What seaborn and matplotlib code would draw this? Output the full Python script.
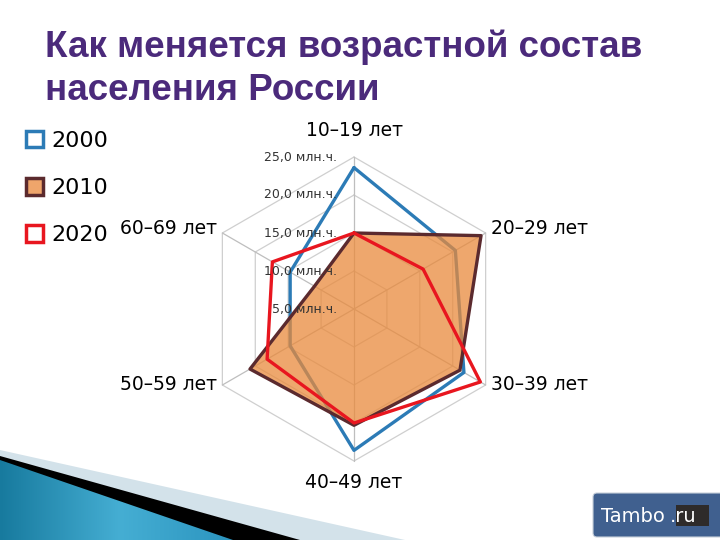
import numpy as np
import pandas as pd
import matplotlib.pyplot as plt
import seaborn as sns
from matplotlib.patches import Patch, Polygon, Rectangle, FancyBboxPatch
from matplotlib.colors import LinearSegmentedColormap

# ==========================================
# DATA (млн. человек)
# ==========================================
categories = ['10–19 лет', '20–29 лет', '30–39 лет', '40–49 лет', '50–59 лет', '60–69 лет']
pop_2000 = [23.6, 20.4, 21.7, 23.6, 14.7, 14.7]
pop_2010 = [15.0, 24.3, 21.1, 20.3, 20.8, 11.0]
pop_2020 = [15.0, 15.5, 24.2, 20.0, 18.2, 17.4]
years = ['2000', '2010', '2020']
r_ticks = [5, 10, 15, 20, 25]

# colours
c_2000 = '#2C7BB6'
c_2010_fill = '#E98A3C'
c_2010_edge = '#5B2A2E'
c_2020 = '#E8161F'
title_color = '#4B2A7B'

# ==========================================
# SETUP
# ==========================================
sns.set_theme(style='white')
plt.rcParams['font.family'] = ['DejaVu Sans']

fig = plt.figure(figsize=(7.2, 5.4), dpi=100)

# background decorations (pixel coordinates)
bg = fig.add_axes([0, 0, 1, 1], zorder=-5)
bg.axis('off')
bg.add_patch(Polygon([(0, 450), (405, 540), (0, 540)], closed=True, color='#D3E2EA', lw=0, zorder=1))
bg.add_patch(Polygon([(0, 456), (300, 540), (0, 540)], closed=True, color='black', lw=0, zorder=1))
blue_poly = Polygon([(0, 460), (233, 540), (0, 540)], closed=True, facecolor='none', lw=0)
bg.add_patch(blue_poly)
grad_cmap = LinearSegmentedColormap.from_list('sw', ['#177A9E', '#45AED3', '#2A93BE'])
grad = np.linspace(0, 1, 256).reshape(1, -1)
im = bg.imshow(grad, cmap=grad_cmap, extent=(0, 240, 540, 455), aspect='auto', zorder=2)
im.set_clip_path(blue_poly)

# Tambo badge
bg.add_patch(FancyBboxPatch((593, 493), 140, 44, boxstyle='round,pad=0,rounding_size=4',
                            facecolor='#40608F', edgecolor='#C8D0DA', lw=0.8, zorder=3))
bg.add_patch(Rectangle((676, 505), 33, 21, facecolor='#2E2B2A', lw=0, zorder=4))
bg.text(601, 516, 'Tambo', color='white', fontsize=14, va='center', ha='left', zorder=5)
bg.text(670, 516, '.ru', color='white', fontsize=14, va='center', ha='left', zorder=5)
bg.set_xlim(0, 720)
bg.set_ylim(540, 0)

# title
fig.text(45 / 720, 1 - 47 / 540, 'Как меняется возрастной состав', color=title_color,
         fontsize=26.5, fontweight='bold', family='Liberation Sans',
         ha='left', va='center')
fig.text(45 / 720, 1 - 91 / 540, 'населения России', color=title_color,
         fontsize=26.5, fontweight='bold', family='Liberation Sans',
         ha='left', va='center')

# ==========================================
# RADAR
# ==========================================
ax = fig.add_axes([202 / 720, 79 / 540, 304 / 720, 304 / 540], projection='polar')
ax.set_theta_offset(np.pi / 2)
ax.set_theta_direction(-1)
ax.set_ylim(r_ticks[0], r_ticks[-1])
ax.grid(False)
ax.set_xticks([])
ax.set_yticks([])
ax.spines['polar'].set_visible(False)
ax.patch.set_alpha(0)

n = len(categories)
angles = np.linspace(0, 2 * np.pi, n, endpoint=False)
closed_angles = np.append(angles, 2 * np.pi)

def closed(vals):
    return list(vals) + [vals[0]]

# hexagonal grid
for lvl in r_ticks[1:]:
    ax.plot(closed_angles, [lvl] * (n + 1), color='#CFCFCF', lw=0.9, zorder=1, clip_on=False)
for a in angles:
    ax.plot([a, a], [r_ticks[0], r_ticks[-1]], color='#BEBEBE', lw=0.9, zorder=1, clip_on=False)

df = pd.DataFrame({
    'angle': np.tile(closed_angles, 3),
    'value': closed(pop_2000) + closed(pop_2010) + closed(pop_2020),
    'year': np.repeat(years, n + 1),
})

d00 = df[df['year'] == '2000']
d10 = df[df['year'] == '2010']
d20 = df[df['year'] == '2020']

sns.lineplot(data=d00, x='angle', y='value', sort=False, estimator=None,
             color=c_2000, lw=2.4, ax=ax, zorder=3)
ax.fill(d10['angle'], d10['value'], color=c_2010_fill, alpha=0.75, lw=0, zorder=4)
sns.lineplot(data=d10, x='angle', y='value', sort=False, estimator=None,
             color=c_2010_edge, lw=2.4, ax=ax, zorder=5)
sns.lineplot(data=d20, x='angle', y='value', sort=False, estimator=None,
             color=c_2020, lw=2.4, ax=ax, zorder=6)
for line in ax.get_lines():
    line.set_clip_on(False)
ax.set_xlabel('')
ax.set_ylabel('')

# radial tick labels
for v in r_ticks:
    ax.annotate(f'{v:.1f}'.replace('.', ',') + ' млн.ч.', xy=(0, v), xytext=(-17, 0),
                textcoords='offset pixels', ha='right', va='center', fontsize=9,
                color='#333333', zorder=7)

# category labels
label_offsets = [(0, 27, 'center'), (5, 5, 'left'), (5, 0, 'left'),
                 (0, -22, 'center'), (-5, 0, 'right'), (-5, 5, 'right')]
for a, lab, (dx, dy, ha) in zip(angles, categories, label_offsets):
    ax.annotate(lab, xy=(a, r_ticks[-1]), xytext=(dx, dy), textcoords='offset pixels',
                ha=ha, va='center', fontsize=13.5, color='black', annotation_clip=False)

# legend
handles = [Patch(facecolor='white', edgecolor=c_2000, lw=2.5),
           Patch(facecolor='#EFA56B', edgecolor=c_2010_edge, lw=2.5),
           Patch(facecolor='white', edgecolor=c_2020, lw=2.5)]
fig.legend(handles, years, loc='upper left', bbox_to_anchor=(26 / 720, 1 - 131 / 540),
           frameon=False, fontsize=16, handlelength=0.75, handleheight=0.75,
           handletextpad=0.4, labelspacing=1.22, borderpad=0, borderaxespad=0,
           labelcolor='black')

fig.savefig('out.png', dpi=100)
